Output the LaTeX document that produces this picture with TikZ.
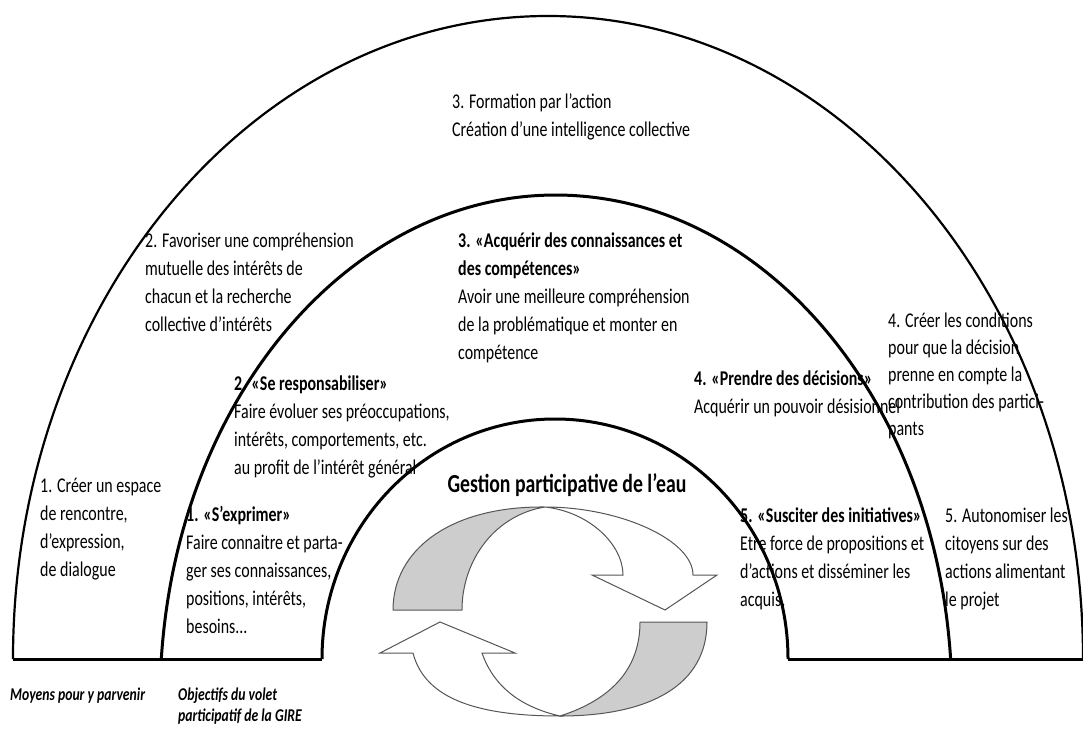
\documentclass[tikz,border=0pt]{standalone}
\usepackage{fontspec}
\setmainfont{Carlito}[FakeStretch=0.76]
\definecolor{arrowfill}{RGB}{205,205,205}
\definecolor{arrowline}{RGB}{85,85,85}
\newcommand{\bandfont}{\fontsize{21}{28}\selectfont}
\newcommand{\condfont}{\fontsize{21}{27}\selectfont}
\newcommand{\titlefont}{\fontsize{26}{30}\selectfont}
\newcommand{\footfont}{\fontsize{18}{21}\selectfont}
\tikzset{
  outer arc/.style={draw, line width=2.2pt},
  inner arc/.style={draw, line width=3pt},
  arrow back/.style={fill=arrowfill, draw=arrowline, line width=1pt, line join=round},
  arrow front/.style={fill=white, draw=arrowline, line width=1pt},
  band text/.style={anchor=north west, align=left, inner sep=0pt, font=\bandfont},
  title text/.style={inner sep=0pt, font=\titlefont\bfseries},
  foot text/.style={anchor=north west, align=left, inner sep=0pt, font=\footfont\bfseries\itshape},
}
\begin{document}
\begin{tikzpicture}[x=1pt, y=1pt]
  \useasboundingbox (0,0) rectangle (1083,729);

  % feet of the three arcs
  \coordinate (outerL) at (13,70);
  \coordinate (outerR) at (1083,70);
  \coordinate (midL) at (161.3,70);
  \coordinate (innerL) at (322,70);
  \coordinate (innerR) at (788,70);

  \draw[outer arc] (outerL) arc[start angle=180, end angle=0, x radius=535, y radius=643];
  \draw[inner arc] (midL) arc[start angle=175.34, end angle=4.66, x radius=396, y radius=505];
  \draw[inner arc] (innerL) arc[start angle=180, end angle=0, x radius=233, y radius=240];
  \draw[inner arc] (outerL) -- (innerL);
  \draw[inner arc] (innerR) -- (outerR);

  % upper curved arrow
  \coordinate (topP) at (545,222);
  \filldraw[arrow back] (393,119) .. controls (393,179) and (450,223) .. (topP)
    .. controls (495,214) and (462,169) .. (462,119) -- cycle;
  \filldraw[arrow front] (topP) .. controls (620,222) and (693,189) .. (693,154)
    -- (717,154) -- (665,119) -- (592,154) -- (623,154)
    .. controls (623,184) and (590,217) .. (topP) -- cycle;

  % lower curved arrow
  \coordinate (botQ) at (560,13);
  \filldraw[arrow front] (413,76) .. controls (425,29) and (480,13) .. (botQ)
    .. controls (525,21) and (495,39) .. (482,76)
    -- (515,76) -- (440,107) -- (380,76) -- cycle;
  \filldraw[arrow back] (botQ) .. controls (650,13) and (707,44) .. (707,107)
    -- (640,107) .. controls (640,59) and (610,29) .. (botQ) -- cycle;

  % outer band
  \node[band text] (formation) at (452,636) {3. Formation par l’action\\Création d’une intelligence collective};
  \node[band text] (favoriser) at (145,496) {2. Favoriser une compréhension\\mutuelle des intérêts de\\chacun et la recherche\\collective d’intérêts};
  \node[band text, font=\condfont] (conditions) at (888,416) {4. Créer les conditions\\pour que la décision\\prenne en compte la\\contribution des partici-\\pants};
  \node[band text] (creer) at (40,251) {1. Créer un espace\\de rencontre,\\d’expression,\\de dialogue};
  \node[band text] (autonomiser) at (945,221) {5. Autonomiser les\\citoyens sur des\\actions alimentant\\le projet};

  % middle band
  \node[band text] (acquerir) at (458,496) {\textbf{3. «Acquérir des connaissances et}\\\textbf{des compétences»}\\Avoir une meilleure compréhension\\de la problématique et monter en\\compétence};
  \node[band text] (responsabiliser) at (234,353) {\textbf{2. «Se responsabiliser»}\\Faire évoluer ses préoccupations,\\intérêts, comportements, etc.\\au profit de l’intérêt général};
  \node[band text] (prendre) at (694,358) {\textbf{4. «Prendre des décisions»}\\Acquérir un pouvoir désisionnel};
  \node[band text] (exprimer) at (186,223) {\textbf{1. «S’exprimer»}\\Faire connaitre et parta-\\ger ses connaissances,\\positions, intérêts,\\besoins...};
  \node[band text] (susciter) at (740,221) {\textbf{5. «Susciter des initiatives»}\\Etre force de propositions et\\d’actions et disséminer les\\acquis.};

  \node[title text] (gestion) at (567,244) {Gestion participative de l’eau};

  % labels under the base line
  \node[foot text] (moyens) at (10,41) {Moyens pour y parvenir};
  \node[foot text] (objectifs) at (178,41) {Objectifs du volet\\participatif de la GIRE};
\end{tikzpicture}
\end{document}
